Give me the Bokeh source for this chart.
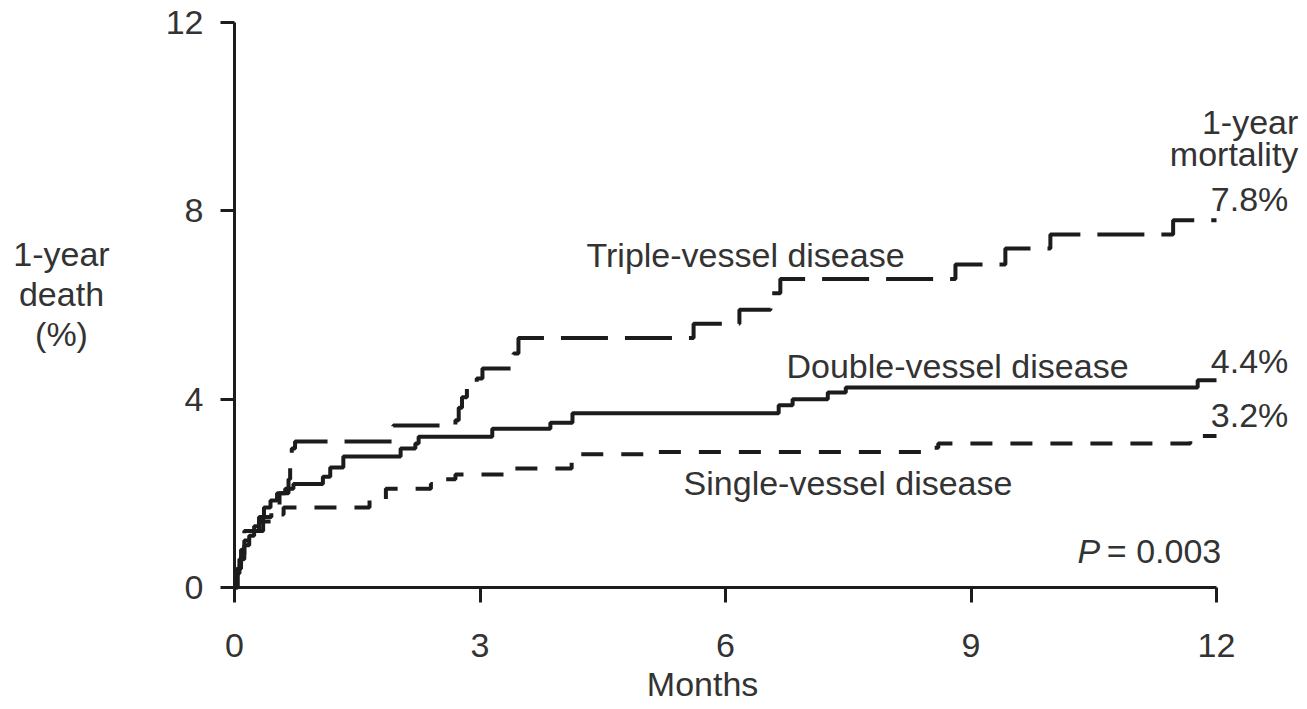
from bokeh.plotting import figure
from bokeh.models import Range1d, Label, FixedTicker
from bokeh.embed import file_html
from bokeh.resources import INLINE

# ---- data (months, cumulative 1-year death %) ----
triple_t = [0, 0.04, 0.08, 0.12, 0.35, 0.45, 0.55, 0.66, 0.68, 0.70, 0.74, 1.94, 2.70, 2.74,
            2.78, 2.84, 2.96, 3.03, 3.41, 3.47, 5.61, 6.17, 6.55, 6.67, 8.81, 9.42, 9.97, 11.47, 12.0]
triple_v = [0, 0.4, 0.8, 1.2, 1.5, 1.75, 2.0, 2.3, 2.6, 2.95, 3.1, 3.44, 3.55, 3.82,
            4.04, 4.25, 4.44, 4.65, 4.97, 5.3, 5.6, 5.9, 6.25, 6.55, 6.86, 7.2, 7.5, 7.8, 7.8]

double_t = [0, 0.02, 0.06, 0.12, 0.18, 0.24, 0.30, 0.36, 0.44, 0.52, 0.62, 0.72, 1.08, 1.17,
            1.33, 2.03, 2.21, 2.25, 3.15, 3.86, 4.13, 6.65, 6.82, 7.25, 7.47, 11.77, 12.0]
double_v = [0, 0.3, 0.6, 0.9, 1.1, 1.3, 1.5, 1.7, 1.85, 2.0, 2.1, 2.2, 2.35, 2.55,
            2.78, 2.95, 3.06, 3.2, 3.37, 3.5, 3.7, 3.87, 4.0, 4.14, 4.25, 4.4, 4.4]

single_t = [0, 0.03, 0.07, 0.12, 0.2, 0.3, 0.45, 0.6, 1.65, 1.85, 2.40, 2.58, 2.70, 3.31,
            4.12, 5.15, 8.5, 8.6, 11.68, 12.0]
single_v = [0, 0.4, 0.7, 1.0, 1.2, 1.4, 1.55, 1.7, 1.85, 2.1, 2.2, 2.3, 2.4, 2.53,
            2.83, 2.88, 2.97, 3.06, 3.22, 3.22]

x_ticks = [0, 3, 6, 9, 12]
y_ticks = [0, 4, 8, 12]
final_labels = ["7.8%", "4.4%", "3.2%"]
series_names = ["Triple-vessel disease", "Double-vessel disease", "Single-vessel disease"]

FONT = "Liberation Sans"
FS = "34px"
TXT = "#333333"
INK = "#1c1c1c"

W, H = 1307, 709
# frame covers the whole canvas; axis 0..12 months spans px 234..1216, 0..12 % spans px 587..22
XPX = (1216 - 234) / 12.0
YPX = (587 - 22) / 12.0
x_range = Range1d(-234 / XPX, (W - 234) / XPX)
y_range = Range1d(-(H - 587) / YPX, 587 / YPX)

p = figure(width=W, height=H, x_range=x_range, y_range=y_range, title=None,
           output_backend="svg", toolbar_location=None, min_border=0)
p.outline_line_color = None
p.grid.visible = False
p.background_fill_color = "white"
p.border_fill_color = "white"

for ax in (p.xaxis[0], p.yaxis[0]):
    ax.fixed_location = 0
    ax.bounds = (0, 12)
    ax.axis_line_width = 3
    ax.axis_line_color = INK
    ax.major_tick_line_width = 3
    ax.major_tick_line_color = INK
    ax.major_tick_in = 0
    ax.minor_tick_line_color = None
    ax.major_label_text_font = FONT
    ax.major_label_text_font_size = FS
    ax.major_label_text_color = TXT

p.xaxis[0].ticker = FixedTicker(ticks=x_ticks)
p.yaxis[0].ticker = FixedTicker(ticks=y_ticks)
p.xaxis[0].major_tick_out = 15
p.xaxis[0].major_label_standoff = 31
p.yaxis[0].major_tick_out = 14
p.yaxis[0].major_label_standoff = 17

# curves
p.step(triple_t, triple_v, mode="after", line_width=4, line_color=INK, line_dash="47 17")
p.step(double_t, double_v, mode="after", line_width=4, line_color=INK)
p.step(single_t, single_v, mode="after", line_width=4, line_color=INK, line_dash="22 18")

DY = 0.2  # baseline correction


def lab(x, y, text, align="left", style="normal"):
    p.add_layout(Label(x=x, y=y + DY, text=text, text_align=align, text_baseline="alphabetic",
                       text_font=FONT, text_font_size=FS, text_color=TXT,
                       text_font_style=style))


# series labels
lab(6.245, 6.86, series_names[0], "center")
lab(8.835, 4.50, series_names[1], "center")
lab(7.497, 2.02, series_names[2], "center")

# final values
lab(11.93, 8.05, final_labels[0])
lab(11.93, 4.62, final_labels[1])
lab(11.93, 3.47, final_labels[2])

# top-right header
lab(13.0, 9.69, "1-year", "right")
lab(13.0, 9.0, "mortality", "right")

# P value
lab(10.30, 0.573, "P", "left", "italic")
lab(10.66, 0.573, "= 0.003", "left")

# y axis title
lab(-2.114, 6.88, "1-year", "center")
lab(-2.114, 6.03, "death", "center")
lab(-2.114, 5.18, "(%)", "center")

# x axis title
lab(5.72, -2.26, "Months", "center")

open("out.html", "w").write(file_html(p, INLINE))
